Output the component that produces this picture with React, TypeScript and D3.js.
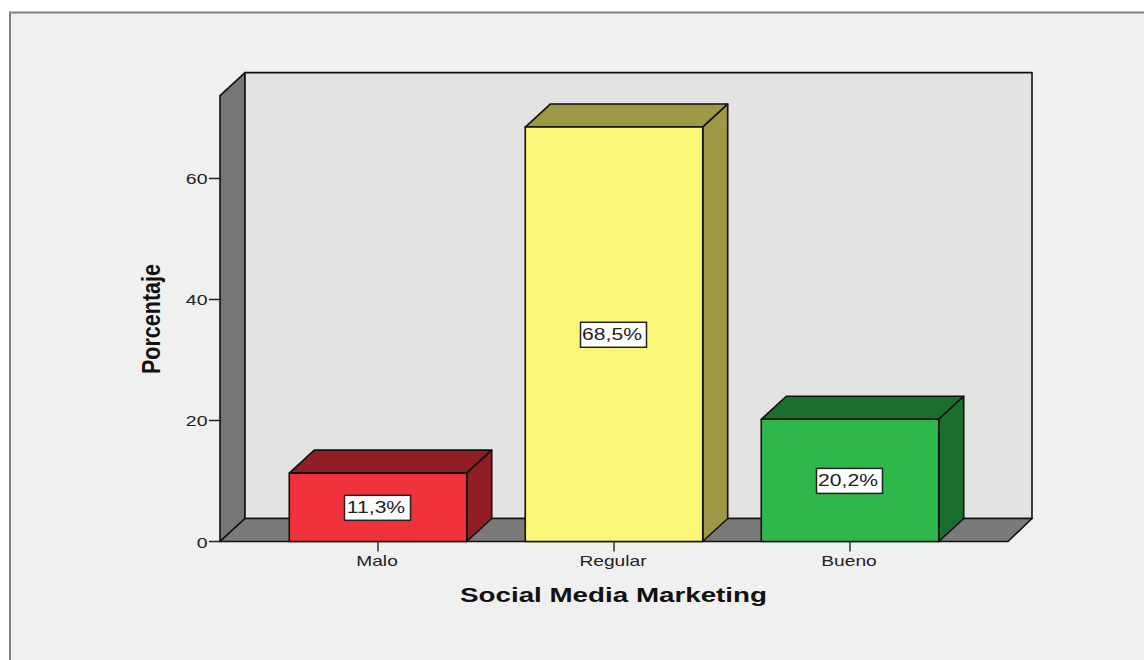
import React from "react";
import * as d3 from "d3";

const categories = ["Malo", "Regular", "Bueno"];
const percentages = [11.3, 68.5, 20.2];
const valueLabels = ["11,3%", "68,5%", "20,2%"];
const frontColors = ["#f2323a", "#fbf776", "#2eb84b"];
const shadeColors = ["#8f1f24", "#9c9845", "#1c6e2d"];
const yTicks = [0, 20, 40, 60];

const xTitle = "Social Media Marketing";
const yTitle = "Porcentaje";

const DEPTH_X = 25;
const DEPTH_Y = 23;
const FONT = "'Liberation Sans', Arial, sans-serif";

const y = d3.scaleLinear().domain([0, 73.7]).range([541.5, 95.6]);
const x = d3
  .scaleBand<string>()
  .domain(categories)
  .range([220, 1008])
  .paddingInner(0.248)
  .paddingOuter(0.2935);

const poly = (pts: [number, number][]) => d3.line()(pts) + "Z";

// Horizontally widened label, anchored at (px, py).
function WideText(props: {
  px: number;
  py: number;
  sx: number;
  size: number;
  anchor: "start" | "middle" | "end";
  children: React.ReactNode;
}) {
  const { px, py, sx, size, anchor, children } = props;
  return (
    <text
      transform={`translate(${px},${py}) scale(${sx},1)`}
      textAnchor={anchor}
      fontFamily={FONT}
      fontSize={size}
      fill="#222"
    >
      {children}
    </text>
  );
}

export default function App() {
  const y0 = y(0);
  const yTop = y.range()[1];
  const [xl, xr] = x.range();

  return (
    <svg
      width={1144}
      height={660}
      style={{ position: "fixed", left: 0, top: 0, display: "block", background: "#fff" }}
    >
      {/* panel */}
      <rect x={10} y={12.5} width={1150} height={670} fill="#f0f0f0" stroke="#808080" strokeWidth={2} />

      {/* chart box: side wall, back wall, floor */}
      <g stroke="#111" strokeWidth={1.6} strokeLinejoin="round">
        <path
          d={poly([[xl, yTop], [xl + DEPTH_X, yTop - DEPTH_Y], [xl + DEPTH_X, y0 - DEPTH_Y], [xl, y0]])}
          fill="#767676"
        />
        <rect
          x={xl + DEPTH_X}
          y={yTop - DEPTH_Y}
          width={xr - xl - 1}
          height={y0 - yTop}
          fill="#e3e3e3"
        />
        <path
          d={poly([[xl, y0], [xl + DEPTH_X, y0 - DEPTH_Y], [xr + DEPTH_X - 1, y0 - DEPTH_Y], [xr, y0]])}
          fill="#7a7a7a"
        />
      </g>

      {/* y axis */}
      {yTicks.map((t) => (
        <g key={t}>
          <line x1={xl - 11} x2={xl} y1={y(t)} y2={y(t)} stroke="#222" strokeWidth={1.5} />
          <WideText px={xl - 12.5} py={y(t) + 6} sx={1.3} size={15} anchor="end">
            {t}
          </WideText>
        </g>
      ))}

      {/* 3D bars */}
      {categories.map((c, i) => {
        const left = x(c)!;
        const right = left + x.bandwidth();
        const top = y(percentages[i]);
        const mid = (left + right) / 2;
        const labelY = (top + y0) / 2;
        return (
          <g key={c}>
            <g stroke="#111" strokeWidth={1.6} strokeLinejoin="round">
              <path
                d={poly([[left, top], [left + DEPTH_X, top - DEPTH_Y], [right + DEPTH_X, top - DEPTH_Y], [right, top]])}
                fill={shadeColors[i]}
              />
              <path
                d={poly([[right, top], [right + DEPTH_X, top - DEPTH_Y], [right + DEPTH_X, y0 - DEPTH_Y], [right, y0]])}
                fill={shadeColors[i]}
              />
              <rect x={left} y={top} width={x.bandwidth()} height={y0 - top} fill={frontColors[i]} />
            </g>
            <rect
              x={mid - 33.5}
              y={labelY - 12}
              width={66}
              height={25}
              fill="#fff"
              stroke="#222"
              strokeWidth={1.5}
            />
            <WideText px={mid - 2} py={labelY + 6} sx={1.32} size={16} anchor="middle">
              {valueLabels[i]}
            </WideText>
            <line x1={mid} x2={mid} y1={y0} y2={y0 + 10} stroke="#333" strokeWidth={1.5} />
            <WideText px={mid - 1} py={566} sx={1.28} size={15} anchor="middle">
              {c}
            </WideText>
          </g>
        );
      })}

      {/* axis titles */}
      <text
        x={460}
        y={602}
        fontFamily={FONT}
        fontWeight="bold"
        fontSize={21}
        fill="#111"
        textLength={307}
        lengthAdjust="spacingAndGlyphs"
      >
        {xTitle}
      </text>
      <text
        transform="translate(160,319) rotate(-90)"
        textAnchor="middle"
        fontFamily={FONT}
        fontWeight="bold"
        fontSize={25}
        fill="#111"
        textLength={110}
        lengthAdjust="spacingAndGlyphs"
      >
        {yTitle}
      </text>
    </svg>
  );
}
